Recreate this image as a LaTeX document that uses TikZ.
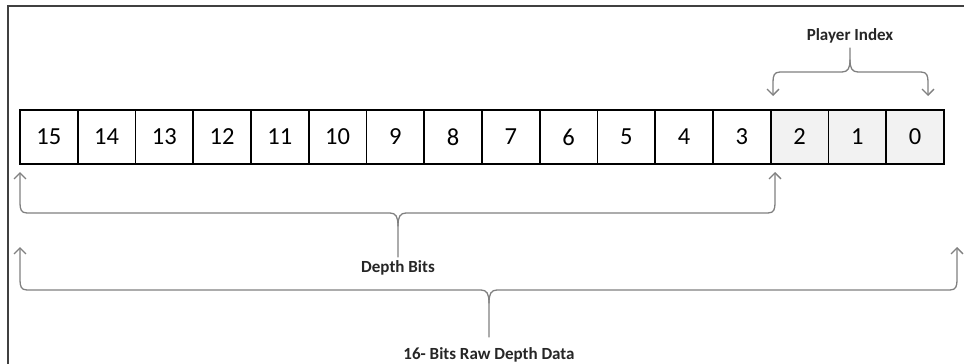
\documentclass[tikz,border=0pt]{standalone}
\usepackage{fontspec}
\setmainfont{Carlito}
\usetikzlibrary{arrows.meta}
\definecolor{bracegray}{HTML}{808080}
\definecolor{cellfill}{HTML}{F2F2F2}
\definecolor{framegray}{HTML}{404040}
\tikzset{
  cellbox/.style={draw=black, line width=1.6pt, minimum width=57.75pt, minimum height=54pt, inner sep=0pt, outer sep=0pt, font=\fontsize{24.5}{28}\selectfont, anchor=north west},
  pibox/.style={cellbox, fill=cellfill},
  brace/.style={draw=bracegray, line width=1.3pt, line cap=round},
  tipped/.style={brace, {Straight Barb[length=6pt,width=12pt]}-},
  lbl/.style={font=\fontsize{17}{20}\selectfont\bfseries, text=black!85, inner sep=0pt, anchor=base}
}
\begin{document}
\begin{tikzpicture}[x=1pt,y=-1pt]
\useasboundingbox (0,0) rectangle (964,364);
% frame
\draw[framegray, line width=1.4pt] (8,364) -- (8,6) -- (964,6);
% cells
\foreach \i in {0,...,12} {
  \pgfmathtruncatemacro{\v}{15-\i}
  \node[cellbox] (c\v) at ({20+57.75*\i},110) {\v};
}
\foreach \i in {13,14,15} {
  \pgfmathtruncatemacro{\v}{15-\i}
  \node[pibox] (c\v) at ({20+57.75*\i},110) {\v};
}
% coordinates for brace ends
\coordinate (piL) at (773,96);
\coordinate (piR) at (928,96);
\coordinate (dbL) at (20,172);
\coordinate (dbR) at (775,172);
\coordinate (rwL) at (20,247);
\coordinate (rwR) at (957,247);
% Player Index brace
\draw[tipped] (piL) -- ++(0,-14) .. controls ++(0,-6) and ++(-6,0) .. ++(7,-10) -- (842,72) .. controls (848,72) and (850,68) .. (850,60) -- (850,48) coordinate (piTop);
\draw[tipped] (piR) -- ++(0,-14) .. controls ++(0,-6) and ++(6,0) .. ++(-7,-10) -- (858,72) .. controls (852,72) and (850,68) .. (850,60);
\node[lbl] (piLabel) at (850,40) {Player Index};
% Depth Bits brace
\draw[tipped] (dbL) -- ++(0,31) .. controls ++(0,6) and ++(-6,0) .. ++(7,10) -- (390,213) .. controls (396,213) and (398,217) .. (398,226) -- (398,257) coordinate (dbBot);
\draw[tipped] (dbR) -- ++(0,31) .. controls ++(0,6) and ++(6,0) .. ++(-7,10) -- (406,213) .. controls (400,213) and (398,217) .. (398,226);
\node[lbl] (dbLabel) at (398,272) {Depth Bits};
% Raw brace
\draw[tipped] (rwL) -- ++(0,33) .. controls ++(0,6) and ++(-6,0) .. ++(7,10) -- (481,290) .. controls (487,290) and (489,294) .. (489,303) -- (489,337) coordinate (rwBot);
\draw[tipped] (rwR) -- ++(0,33) .. controls ++(0,6) and ++(6,0) .. ++(-7,10) -- (497,290) .. controls (491,290) and (489,294) .. (489,303);
\node[lbl] (rwLabel) at (489,359) {16- Bits Raw Depth Data};
\end{tikzpicture}
\end{document}
